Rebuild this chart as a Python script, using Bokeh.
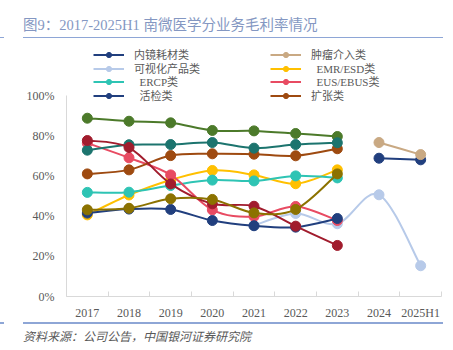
from bokeh.plotting import figure
from bokeh.models import (FixedTicker, Legend, LegendItem, ColumnDataSource, Range1d, Div)
from bokeh.layouts import column
from bokeh.embed import file_html
from bokeh.resources import INLINE

# ---------------- data ----------------
title_text = "图9：2017-2025H1 南微医学分业务毛利率情况"
source_text = "资料来源：公司公告，中国银河证券研究院"
categories = ["2017", "2018", "2019", "2020", "2021", "2022", "2023", "2024", "2025H1"]
ytick_vals = [0, 20, 40, 60, 80, 100]
ytick_labels = ["0%", "20%", "40%", "60%", "80%", "100%"]

neijing = [None, None, None, None, None, None, None, 68.8, 68.0]      # 内镜耗材类
zhongliu = [None, None, None, None, None, None, None, 76.6, 70.6]     # 肿瘤介入类
keshihua = [None, None, None, None, 35.3, 41.3, 36.2, 50.6, 15.3]     # 可视化产品类
emr_esd = [40.6, 50.5, 58.0, 62.7, 60.5, 56.1, 63.0, None, None]      # EMR/ESD类
ercp = [51.8, 51.9, 55.2, 57.9, 57.5, 60.0, 59.0, None, None]         # ERCP类
eus_ebus = [76.3, 69.0, 60.5, 43.1, 39.8, 44.8, 37.8, None, None]     # EUS/EBUS类
huojian = [41.5, 43.5, 43.3, 37.8, 35.2, 34.5, 38.8, None, None]      # 活检类
kuozhang = [61.0, 63.0, 70.1, 71.0, 70.8, 70.0, 73.5, None, None]     # 扩张类
series_9 = [88.7, 87.2, 86.4, 82.6, 82.4, 81.1, 79.6, None, None]
series_10 = [72.8, 75.5, 75.6, 76.6, 73.8, 75.6, 76.5, None, None]
series_11 = [77.6, 74.1, 56.0, 46.1, 44.9, 35.0, 25.4, None, None]
series_12 = [43.1, 43.9, 48.6, 48.3, 41.6, 43.3, 61.0, None, None]

series_names = ["内镜耗材类", "肿瘤介入类", "可视化产品类", "  EMR/ESD类", "  ERCP类",
                "  EUS/EBUS类", "  活检类", "扩张类", None, None, None, None]
series_values = [neijing, zhongliu, keshihua, emr_esd, ercp, eus_ebus, huojian,
                 kuozhang, series_9, series_10, series_11, series_12]
series_colors = ["#213F7E", "#C9A983", "#B7CAE9", "#FFC000", "#2EC4B4", "#E84B62",
                 "#213F7E", "#9E4A10", "#4C7A2A", "#1C746E", "#A11C2D", "#8C7200"]

FONT_SERIF = "'Liberation Serif', 'Noto Sans CJK SC'"
TEXT_GREY = "#595959"
RULE_COLOR = "#8EA6D6"

# ---------------- layout geometry ----------------
W = 453
top_h = 38          # title strip
fig_h = 284         # figure strip
bot_h = 28          # source strip
left, right = 66, 12
frame_top_abs, frame_bottom_abs = 39, 296
min_top = frame_top_abs - top_h
min_bottom = top_h + fig_h - frame_bottom_abs
frame_h = frame_bottom_abs - frame_top_abs
px_per_unit = 2.01

p = figure(width=W, height=fig_h, output_backend="svg", toolbar_location=None,
           x_range=Range1d(0, len(categories)), y_range=Range1d(0, frame_h / px_per_unit),
           min_border_left=left, min_border_right=right, min_border_top=min_top,
           min_border_bottom=min_bottom, margin=0)
p.outline_line_color = None
p.xgrid.visible = False
p.ygrid.visible = False
p.background_fill_color = "white"
p.border_fill_color = "white"

# x axis
xc = [i + 0.5 for i in range(len(categories))]
p.xaxis.ticker = FixedTicker(ticks=xc, minor_ticks=list(range(len(categories) + 1)))
p.xaxis.major_label_overrides = {x: c for x, c in zip(xc, categories)}
p.xaxis.axis_line_color = "#D9D9D9"
p.xaxis.major_tick_in = 0
p.xaxis.major_tick_out = 0
p.xaxis.minor_tick_in = 5
p.xaxis.minor_tick_out = 0
p.xaxis.minor_tick_line_color = "#D9D9D9"
p.xaxis.major_label_standoff = 9
p.xaxis.major_label_text_font = FONT_SERIF
p.xaxis.major_label_text_font_size = "12px"
p.xaxis.major_label_text_color = TEXT_GREY

# y axis
p.yaxis.ticker = FixedTicker(ticks=ytick_vals, minor_ticks=[])
p.yaxis.major_label_overrides = {v: l for v, l in zip(ytick_vals, ytick_labels)}
p.yaxis.bounds = (0, 100)
p.yaxis.axis_line_color = "#D9D9D9"
p.yaxis.major_tick_in = 0
p.yaxis.major_tick_out = 0
p.yaxis.minor_tick_in = 0
p.yaxis.minor_tick_out = 0
p.yaxis.major_label_standoff = 12
p.yaxis.major_label_text_font = FONT_SERIF
p.yaxis.major_label_text_font_size = "12px"
p.yaxis.major_label_text_color = TEXT_GREY


def runs(vals):
    out, cur = [], []
    for i, v in enumerate(vals):
        if v is None:
            if cur:
                out.append(cur)
            cur = []
        else:
            cur.append((xc[i], v))
    if cur:
        out.append(cur)
    return out


def bezier_source(vals):
    d = dict(x0=[], y0=[], x1=[], y1=[], cx0=[], cy0=[], cx1=[], cy1=[])
    for run in runs(vals):
        n = len(run)
        for i in range(n - 1):
            p0 = run[i - 1] if i > 0 else run[i]
            p1 = run[i]
            p2 = run[i + 1]
            p3 = run[i + 2] if i + 2 < n else run[i + 1]
            d["x0"].append(p1[0]); d["y0"].append(p1[1])
            d["x1"].append(p2[0]); d["y1"].append(p2[1])
            d["cx0"].append(p1[0] + (p2[0] - p0[0]) / 6)
            d["cy0"].append(p1[1] + (p2[1] - p0[1]) / 6)
            d["cx1"].append(p2[0] - (p3[0] - p1[0]) / 6)
            d["cy1"].append(p2[1] - (p3[1] - p1[1]) / 6)
    return ColumnDataSource(d)


items = {}
for name, vals, col in zip(series_names, series_values, series_colors):
    br = p.bezier(x0="x0", y0="y0", x1="x1", y1="y1", cx0="cx0", cy0="cy0",
                  cx1="cx1", cy1="cy1", source=bezier_source(vals),
                  line_color=col, line_width=2)
    pts = [(x, v) for x, v in zip(xc, vals) if v is not None]
    sr = p.scatter([a for a, _ in pts], [b for _, b in pts], size=10,
                   fill_color=col, line_color=col, line_width=1)
    if name is not None:
        items[name] = LegendItem(label=name, renderers=[br, sr])

# legend: one horizontal legend per row, two entries each
legend_rows = [["内镜耗材类", "肿瘤介入类"],
               ["可视化产品类", "  EMR/ESD类"],
               ["  ERCP类", "  EUS/EBUS类"],
               ["  活检类", "扩张类"]]
row_centers = [55, 68.7, 82.3, 96]
glyph_x0 = 93
col2_x0 = 270
glyph_w, standoff = 31, 10
for names, rc in zip(legend_rows, row_centers):
    leg = Legend(items=[items[n] for n in names],
                 location=(glyph_x0 - left, round(frame_bottom_abs - 7 - rc)),
                 orientation="horizontal", padding=0, margin=0, spacing=0,
                 glyph_width=glyph_w, glyph_height=13, label_height=13,
                 label_width=col2_x0 - glyph_x0 - glyph_w - standoff,
                 label_standoff=standoff, border_line_color=None,
                 background_fill_alpha=0, label_text_font=FONT_SERIF,
                 label_text_font_size="11px", label_text_color=TEXT_GREY)
    p.add_layout(leg)

# ---------------- title / source strips ----------------
font_css = "font-family:'Liberation Serif','Noto Sans CJK SC';white-space:nowrap;"
top_html = (
    f'<div style="position:relative;width:{W}px;height:{top_h}px;">'
    f'<div style="position:absolute;left:23px;top:16px;font-size:14.5px;line-height:18px;'
    f'color:#8497C2;{font_css}">{title_text}</div>'
    f'<div style="position:absolute;left:23px;top:36.75px;width:420px;height:1.5px;'
    f'background:{RULE_COLOR};"></div>'
    f'<div style="position:absolute;left:0px;top:36.75px;width:4px;height:1.5px;'
    f'background:{RULE_COLOR};"></div>'
    '</div>'
)
bot_html = (
    f'<div style="position:relative;width:{W}px;height:{bot_h}px;">'
    f'<div style="position:absolute;left:23px;top:0.25px;width:420px;height:1.5px;'
    f'background:{RULE_COLOR};"></div>'
    f'<div style="position:absolute;left:0px;top:0.25px;width:4px;height:1.5px;'
    f'background:{RULE_COLOR};"></div>'
    f'<div style="position:absolute;left:23px;top:7px;font-size:12px;line-height:16px;'
    f'font-style:italic;color:{TEXT_GREY};{font_css}">{source_text}</div>'
    '</div>'
)
div_top = Div(text=top_html, width=W, height=top_h, margin=0)
div_bot = Div(text=bot_html, width=W, height=bot_h, margin=0)

layout = column(div_top, p, div_bot, spacing=0, margin=0)

open("out.html", "w").write(file_html(layout, INLINE))
